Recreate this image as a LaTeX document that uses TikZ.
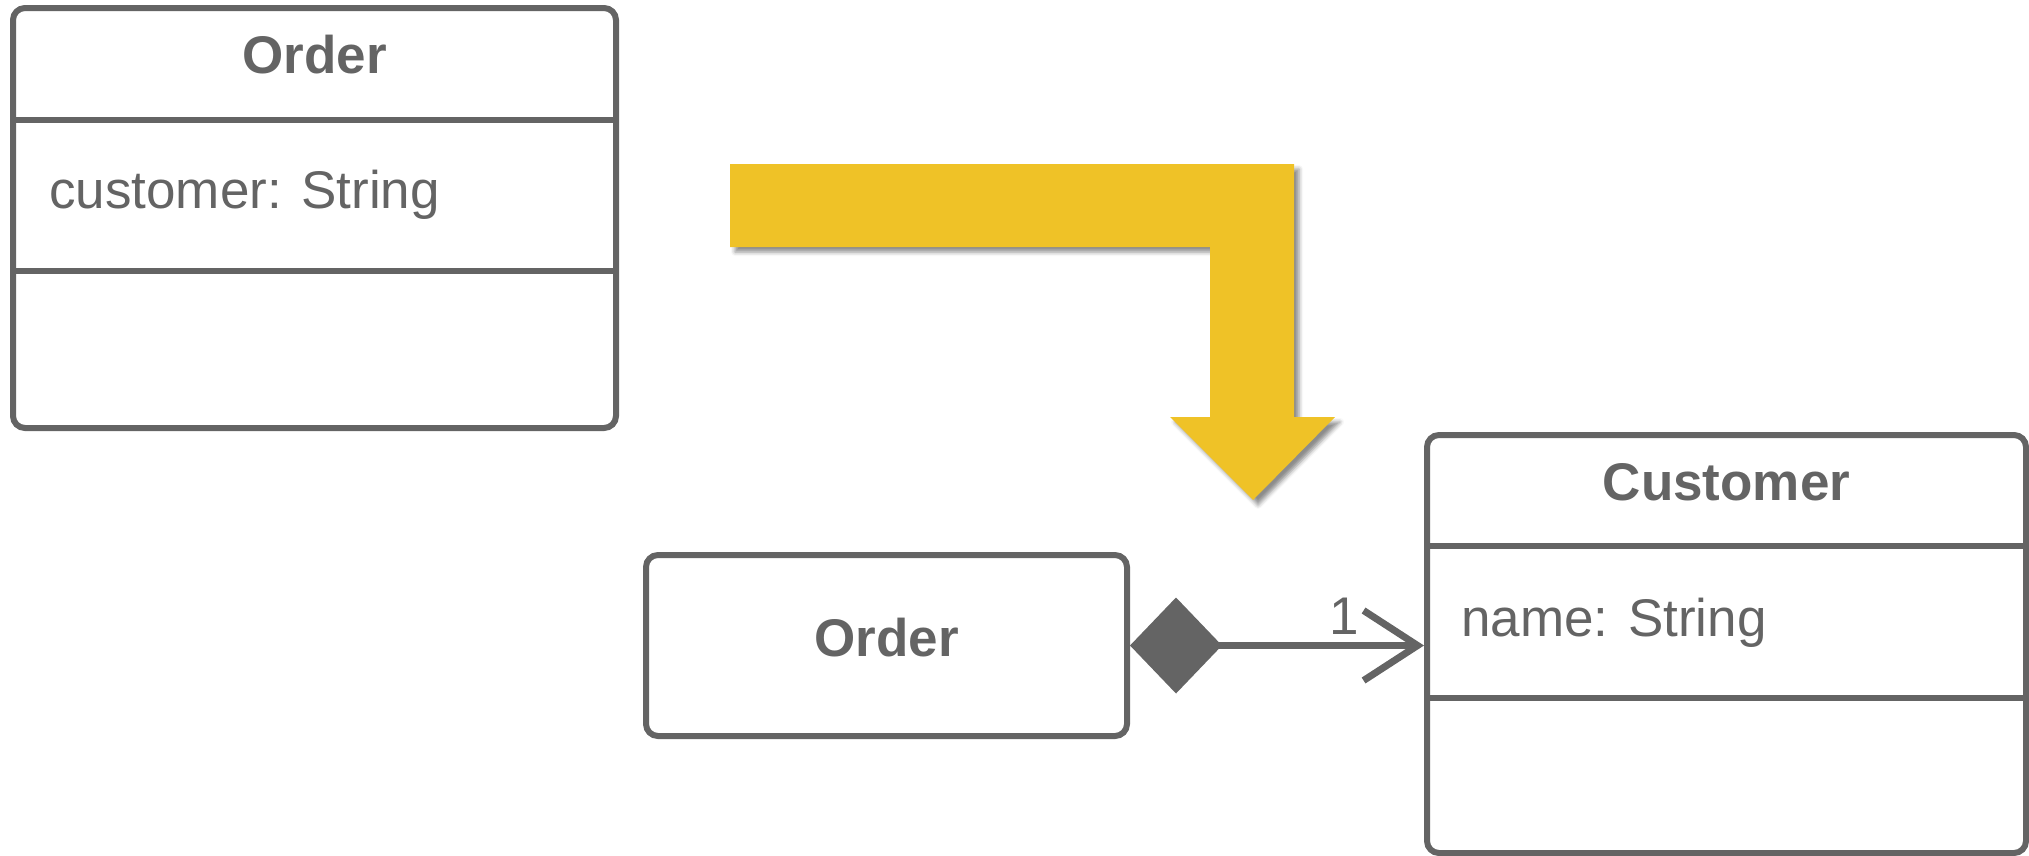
\documentclass[tikz,border=0pt]{standalone}
\usepackage{fontspec}
\setmainfont{Liberation Sans}
\usepackage{xcolor}
\definecolor{umlgray}{HTML}{646464}
\definecolor{arrowyellow}{HTML}{EFC227}
\usepackage{tikz}
\usetikzlibrary{arrows.meta,positioning,calc,shadows.blur}

\begin{document}
\begin{tikzpicture}[x=1pt,y=-1pt,
    classbox/.style={draw=umlgray,line width=6pt,rounded corners=12pt,fill=white},
    divider/.style={draw=umlgray,line width=6pt},
    umltext/.style={text=umlgray,inner sep=0pt,font=\fontsize{53}{60}\selectfont},
    umltitle/.style={umltext,font=\fontsize{53}{60}\selectfont\bfseries},
    composition/.style={draw=umlgray,line width=7pt,
      {Diamond[length=92pt,width=96pt,fill=umlgray]}-{Straight Barb[length=54pt,width=70pt]}}]
  \useasboundingbox (0,0) rectangle (2029,855);

  % old class
  \node[classbox,minimum width=603pt,minimum height=420pt] (orderA) at (314.5,218) {};
  \draw[divider] ([yshift=-115pt]orderA.north west) -- ([yshift=-115pt]orderA.north east);
  \draw[divider] ([yshift=-266pt]orderA.north west) -- ([yshift=-266pt]orderA.north east);
  \node[umltitle] (orderAtitle) at ([yshift=-50pt]orderA.north) {Order};
  \node[umltext,anchor=west] (orderAattr) at ([xshift=39pt,yshift=-190pt]orderA.north west) {customer: String};

  % refactoring arrow
  \fill[arrowyellow,blur shadow={shadow xshift=5pt,shadow yshift=-5pt,shadow blur radius=4pt,shadow opacity=45}]
    (730,164) -- (1294,164) -- (1294,417) -- (1335,417) -- (1253,500) -- (1170,417)
    -- (1210,417) -- (1210,247) -- (730,247) -- cycle;

  % new classes
  \node[classbox,minimum width=481pt,minimum height=181pt] (orderB) at (886.5,645.5) {};
  \node[umltitle] (orderBtitle) at ([yshift=8pt]orderB.center) {Order};

  \node[classbox,minimum width=599pt,minimum height=418pt] (customer) at (1726.5,644) {};
  \draw[divider] ([yshift=-114pt]customer.north west) -- ([yshift=-114pt]customer.north east);
  \draw[divider] ([yshift=-266pt]customer.north west) -- ([yshift=-266pt]customer.north east);
  \node[umltitle] (customertitle) at ([yshift=-50pt]customer.north) {Customer};
  \node[umltext,anchor=west] (customerattr) at ([xshift=37pt,yshift=-191pt]customer.north west) {name: String};

  \draw[composition] (orderB.east) -- (orderB.east -| customer.west)
    node[umltext,pos=0.73,above=8pt] (mult) {1};
\end{tikzpicture}
\end{document}
